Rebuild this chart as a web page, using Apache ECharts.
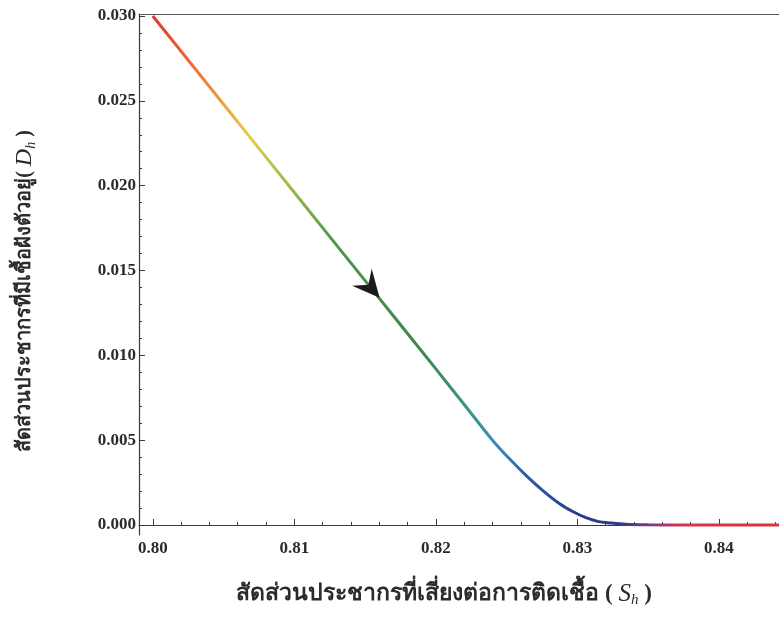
<!DOCTYPE html>
<html>
<head>
<meta charset="utf-8">
<title>Dh vs Sh</title>
<script src="https://cdn.jsdelivr.net/npm/echarts@6/dist/echarts.min.js"></script>
<style>
  html, body { margin: 0; padding: 0; background: #fff; }
  #chart { width: 779px; height: 620px; }
</style>
</head>
<body>
<div id="chart"></div>
<script>
// values
var sh_values = [0.800, 0.805, 0.810, 0.815, 0.820, 0.822, 0.824, 0.8252, 0.8264, 0.8276, 0.8288, 0.8297, 0.8306, 0.8315, 0.8323, 0.8334, 0.835, 0.838, 0.841, 0.8445];
var dh_values = [0.0300, 0.0248, 0.0196, 0.0144, 0.0092, 0.0071, 0.0050, 0.0039, 0.00290, 0.00200, 0.00122, 0.00078, 0.00043, 0.0002, 0.00012, 0.00004, 0.00001, 0, 0, 0];

var x_major = [0.80, 0.81, 0.82, 0.83, 0.84];
var x_minor = [0.802, 0.804, 0.806, 0.808, 0.812, 0.814, 0.816, 0.818, 0.822, 0.824, 0.826, 0.828, 0.832, 0.834, 0.836, 0.838, 0.842, 0.844];
var y_major = [0, 0.005, 0.010, 0.015, 0.020, 0.025, 0.030];
var y_minor = [0.001, 0.002, 0.003, 0.004, 0.006, 0.007, 0.008, 0.009, 0.011, 0.012, 0.013, 0.014,
               0.016, 0.017, 0.018, 0.019, 0.021, 0.022, 0.023, 0.024, 0.026, 0.027, 0.028, 0.029];

// arrow sits on the curve here
var arrow_at = [0.8154, 0.0140];

var x_min = 0.799026, x_max = 0.844243;
var y_min = -0.000589, y_max = 0.030118;

var curve = [];
for (var i = 0; i < sh_values.length; i++) {
  curve.push([sh_values[i], dh_values[i]]);
}

var tick_font = { color: '#2b2b2b', fontFamily: 'Liberation Serif, DejaVu Serif, serif', fontSize: 17, fontWeight: 'bold' };
var axis_line = { show: true, lineStyle: { color: '#3a3a3a', width: 1.2 } };

var chart = echarts.init(document.getElementById('chart'));
chart.setOption({
  backgroundColor: '#fff',
  animation: false,
  grid: [
    { left: 139, right: -10, top: 14, bottom: 85 },
    { left: 139, right: -10, top: 14, bottom: 85 }
  ],
  xAxis: [
    {
      type: 'value', gridIndex: 0, position: 'bottom', min: x_min, max: x_max,
      axisLine: axis_line,
      splitLine: { show: false },
      axisTick: { show: true, inside: true, length: 6, customValues: x_major, lineStyle: { color: '#3a3a3a' } },
      axisLabel: Object.assign({ margin: 5, customValues: x_major, formatter: function (v) { return v.toFixed(2); } }, tick_font)
    },
    {
      type: 'value', gridIndex: 0, position: 'top', min: x_min, max: x_max,
      axisLine: { show: true, lineStyle: { color: '#555', width: 1.2 } },
      splitLine: { show: false }, axisTick: { show: false }, axisLabel: { show: false }
    },
    {
      type: 'value', gridIndex: 1, position: 'bottom', min: x_min, max: x_max,
      axisLine: { show: false }, splitLine: { show: false }, axisLabel: { show: false },
      axisTick: { show: true, inside: true, length: 3, customValues: x_minor, lineStyle: { color: '#3a3a3a' } }
    }
  ],
  yAxis: [
    {
      type: 'value', gridIndex: 0, min: y_min, max: y_max,
      axisLine: axis_line,
      splitLine: { show: false },
      axisTick: { show: true, inside: true, length: 6, customValues: y_major, lineStyle: { color: '#3a3a3a' } },
      axisLabel: Object.assign({ margin: 3, customValues: y_major, formatter: function (v) { return v.toFixed(3); } }, tick_font)
    },
    {
      type: 'value', gridIndex: 1, min: y_min, max: y_max,
      axisLine: { show: false }, splitLine: { show: false }, axisLabel: { show: false },
      axisTick: { show: true, inside: true, length: 3, customValues: y_minor, lineStyle: { color: '#3a3a3a' } }
    }
  ],
  series: [
    {
      type: 'line',
      xAxisIndex: 0,
      yAxisIndex: 0,
      data: curve,
      smooth: 0.3,
      showSymbol: false,
      clip: true,
      lineStyle: {
        width: 3,
        color: new echarts.graphic.LinearGradient(153, 0, 789, 0, [
          { offset: 0, color: '#da3a2c' },
          { offset: 0.074, color: '#ee7b36' },
          { offset: 0.15, color: '#e6cc48' },
          { offset: 0.215, color: '#9cbc48' },
          { offset: 0.28, color: '#4f984a' },
          { offset: 0.42, color: '#3a874e' },
          { offset: 0.5, color: '#3b9688' },
          { offset: 0.545, color: '#3a8ac0' },
          { offset: 0.59, color: '#2d58a6' },
          { offset: 0.67, color: '#263c88' },
          { offset: 0.73, color: '#2e3886' },
          { offset: 0.78, color: '#7a3a8e' },
          { offset: 0.83, color: '#d8334f' },
          { offset: 1, color: '#e0303a' }
        ], true)
      },
      markPoint: {
        symbol: 'path://M0,0 L12,30 L0,19 L-12,30 Z',
        symbolSize: [26, 27],
        symbolRotate: -139,
        itemStyle: { color: '#1e1a1c' },
        label: { show: false },
        data: [{ coord: arrow_at }]
      }
    }
  ],
  graphic: [
    {
      type: 'text',
      x: 444, y: 594,
      style: {
        text: 'สัดส่วนประชากรที่เสี่ยงต่อการติดเชื้อ ( {it|S}{sub|h} )',
        align: 'center', verticalAlign: 'middle',
        fill: '#2b2b2b',
        font: 'bold 23px "Liberation Serif", "DejaVu Serif", serif',
        rich: {
          it: { fontStyle: 'italic', fontSize: 25, fontFamily: 'Liberation Serif', fill: '#2b2b2b' },
          sub: { fontStyle: 'italic', fontSize: 15, fontFamily: 'Liberation Serif', fill: '#2b2b2b', padding: [12, 0, 0, 0] }
        }
      }
    },
    {
      type: 'text',
      x: 25, y: 291,
      rotation: Math.PI / 2,
      style: {
        text: 'สัดส่วนประชากรที่มีเชื้อฝังตัวอยู่( {it|D}{sub|h} )',
        align: 'center', verticalAlign: 'middle',
        fill: '#2b2b2b',
        font: 'bold 20px "Liberation Serif", "DejaVu Serif", serif',
        rich: {
          it: { fontStyle: 'italic', fontSize: 24, fontFamily: 'Liberation Serif', fill: '#2b2b2b' },
          sub: { fontStyle: 'italic', fontSize: 14, fontFamily: 'Liberation Serif', fill: '#2b2b2b', padding: [12, 0, 0, 0] }
        }
      }
    }
  ]
});
</script>
</body>
</html>
